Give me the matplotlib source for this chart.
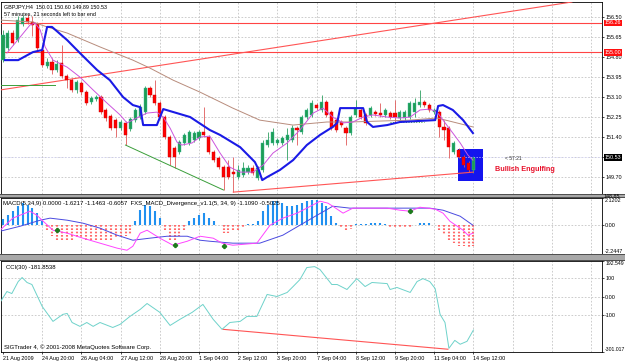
import matplotlib
matplotlib.use("Agg")
import matplotlib.pyplot as plt
import matplotlib.transforms as mtrans
from matplotlib.patches import Rectangle
import numpy as np

plt.rcParams['font.family'] = ['Liberation Sans', 'DejaVu Sans']

# ------------------------------------------------------------------ data
symbol_header = "GBPJPY,H4  150.01 150.60 149.89 150.53"
timer_header = "57 minutes, 21 seconds left to bar end"
macd_title = ("MACD(5,34,9) 0.0000 -1.6217 -1.1463 -0.6057  "
              "FXS_MACD_Divergence_v1.1(5, 34, 9) -1.1090 -0.5025")
cci_title = "CCI(30) -181.8538"
copyright_text = "SIGTrader 4, \u00a9 2001-2008 MetaQuotes Software Corp."
countdown_text = "< 57:21"
pattern_text = "Bullish Engulfing"

date_labels = ["21 Aug 2009", "24 Aug 20:00", "26 Aug 04:00", "27 Aug 12:00",
               "28 Aug 20:00", "1 Sep 04:00", "2 Sep 12:00", "3 Sep 20:00",
               "7 Sep 04:00", "8 Sep 12:00", "9 Sep 20:00", "11 Sep 04:00",
               "14 Sep 12:00"]
date_idx = list(range(0, 97, 8))

price_ticks = [156.50, 155.65, 154.80, 153.95, 153.10, 152.25, 151.40, 150.55, 149.70]
price_tick_labels = ["156.50", "155.65", "154.80", "153.95", "153.10", "152.25",
                     "151.40", "", "149.70"]

opens = [154.67, 155.18, 155.82, 155.52, 156.20, 156.46, 156.29, 156.20, 155.10, 154.42,
         154.59, 154.25, 154.55, 153.99, 153.82, 153.40, 153.70, 153.31, 152.89, 153.02,
         153.10, 152.55, 152.29, 152.12, 151.78, 152.00, 151.74, 152.12, 152.25, 152.46,
         153.48, 153.19, 152.85, 152.25, 151.40, 150.93, 150.76, 151.15, 151.15, 151.27,
         151.36, 151.61, 151.40, 150.76, 150.51, 150.12, 150.12, 149.91, 149.70, 149.78,
         149.91, 150.08, 149.66, 150.00, 151.06, 151.15, 151.15, 151.15, 151.27, 151.27,
         151.78, 151.61, 152.25, 152.34, 152.76, 152.55, 152.89, 152.46, 152.12, 152.04,
         151.78, 151.57, 152.34, 152.55, 152.34, 152.34, 152.46, 152.42, 152.34, 152.42,
         152.42, 152.21, 152.21, 152.25, 152.46, 152.76, 152.89, 152.76, 152.46, 152.46,
         151.83, 151.78, 150.76, 150.85, 150.55, 150.30, 150.01]
highs = [155.95, 155.95, 155.95, 156.54, 156.59, 156.63, 156.54, 156.29, 155.18, 154.76,
         154.76, 154.67, 155.31, 154.08, 153.91, 153.82, 153.78, 153.40, 153.14, 153.19,
         153.19, 152.63, 152.38, 152.21, 152.12, 152.08, 152.25, 152.63, 152.80, 153.57,
         153.57, 153.82, 152.93, 152.34, 151.49, 151.02, 151.27, 151.57, 151.70, 151.66,
         151.70, 152.67, 151.49, 150.85, 150.59, 150.21, 150.42, 150.55, 150.21, 150.34,
         150.21, 150.21, 150.17, 151.27, 151.61, 151.78, 151.36, 151.44, 151.78, 151.91,
         151.87, 152.34, 152.63, 152.97, 152.85, 153.19, 152.97, 152.55, 152.21, 152.12,
         151.87, 152.34, 152.97, 152.63, 152.42, 152.72, 152.55, 152.85, 152.63, 152.51,
         152.97, 152.55, 152.55, 152.93, 153.06, 153.40, 152.97, 152.85, 152.63, 152.55,
         152.12, 151.87, 151.23, 150.93, 150.63, 150.38, 150.60]
lows = [154.59, 155.10, 155.31, 155.44, 156.12, 156.20, 155.69, 155.10, 154.37, 154.33,
        154.08, 154.16, 153.91, 153.48, 153.31, 153.27, 153.19, 152.76, 152.80, 152.93,
        152.38, 152.08, 151.70, 151.40, 151.70, 151.06, 151.66, 152.04, 152.17, 152.38,
        153.10, 152.76, 152.17, 151.32, 150.21, 150.08, 150.68, 151.06, 151.06, 151.19,
        151.27, 151.40, 150.68, 150.34, 150.04, 149.15, 149.61, 149.06, 149.61, 149.70,
        149.83, 149.78, 149.57, 149.91, 150.97, 151.06, 151.06, 151.06, 150.42, 151.19,
        151.06, 151.53, 152.17, 152.25, 152.55, 152.46, 152.25, 151.70, 151.61, 151.83,
        151.06, 151.49, 152.25, 152.17, 151.91, 152.25, 152.29, 152.25, 152.25, 152.17,
        152.04, 152.12, 152.12, 152.17, 152.25, 152.67, 152.67, 152.46, 152.38, 151.40,
        151.27, 150.51, 150.68, 150.51, 150.12, 149.91, 149.89]
closes = [155.73, 155.82, 155.39, 156.37, 156.46, 156.29, 156.16, 155.18, 154.46, 154.59,
          154.25, 154.50, 153.99, 153.82, 153.40, 153.74, 153.31, 152.85, 153.06, 153.10,
          152.46, 152.21, 151.78, 151.78, 152.04, 151.49, 152.17, 152.55, 152.67, 153.48,
          153.19, 152.85, 152.25, 151.40, 150.55, 150.55, 151.19, 151.49, 151.61, 151.57,
          151.61, 151.49, 150.76, 150.42, 150.12, 149.70, 149.70, 149.83, 150.00, 150.08,
          150.08, 149.87, 150.08, 151.15, 151.27, 151.61, 151.27, 151.36, 151.49, 151.78,
          151.70, 152.25, 152.55, 152.85, 152.63, 152.89, 152.34, 151.78, 151.70, 151.91,
          151.57, 152.25, 152.63, 152.25, 152.00, 152.63, 152.38, 152.34, 152.55, 152.25,
          152.25, 152.46, 152.46, 152.85, 152.85, 152.89, 152.76, 152.55, 152.55, 151.83,
          151.70, 150.97, 151.15, 150.55, 150.21, 150.00, 150.53]

# thick blue line (vertices: bar index, price)
blue_x = [0.4, 3.1, 6.1, 8.0, 9.0, 10.0, 13.1, 15.7, 19.2, 21.8, 24.5, 26.5, 28.0, 28.6,
          31.4, 32.7, 38.2, 42.2, 44.3, 48.4, 51.4, 52.2, 52.9, 53.9, 56.5, 59.2, 62.0,
          64.7, 67.3, 68.2, 68.8, 73.5, 74.3, 75.5, 78.4, 81.0, 88.2, 88.8, 89.8, 91.8,
          93.9, 95.9]
blue_y = [154.67, 154.67, 155.01, 155.10, 156.08, 156.08, 155.52, 154.97, 154.25, 153.82,
          153.10, 152.76, 152.67, 151.91, 151.91, 152.59, 152.25, 151.70, 151.49, 150.97,
          150.34, 150.00, 149.57, 149.70, 150.00, 150.42, 151.06, 151.49, 151.83, 152.00,
          152.63, 152.63, 152.04, 151.83, 151.91, 152.04, 152.12, 152.72, 152.76, 152.55,
          152.12, 151.57]
# violet fast average
mag_x = [0.8, 3.5, 5.5, 6.5, 7.6, 8.6, 10.2, 13.1, 15.7, 18.4, 21.2, 23.9, 25.3, 27.3,
         29.4, 31.4, 32.7, 34.1, 35.5, 36.5, 38.6, 40.2, 42.2, 44.3, 46.3, 48.4, 51.0,
         53.1, 55.1, 58.0, 60.6, 63.3, 65.3, 67.3, 69.4, 71.4, 73.5, 75.5, 78.4, 81.0,
         83.1, 85.1, 87.1, 88.6, 89.8, 91.8, 93.3, 94.9, 95.9]
mag_y = [154.97, 155.65, 156.16, 156.25, 155.95, 155.23, 154.67, 154.37, 153.95, 153.40,
         152.85, 152.34, 152.00, 152.21, 152.42, 152.46, 152.25, 151.78, 151.19, 151.06,
         151.15, 151.40, 151.44, 150.72, 150.12, 149.91, 149.91, 150.21, 150.72, 151.15,
         151.70, 152.42, 152.63, 152.25, 152.00, 152.04, 152.25, 152.34, 152.25, 152.21,
         152.25, 152.55, 152.59, 152.46, 152.12, 151.57, 151.15, 150.63, 150.42]
# brown slow average
brown_x = [-0.6, 6.1, 9.0, 13.1, 19.8, 26.5, 30.0, 34.7, 40.2, 46.9, 52.4, 59.2, 66.1,
           70.8, 83.1, 88.6, 95.9]
brown_y = [156.37, 156.29, 156.08, 155.82, 155.23, 154.67, 154.33, 153.82, 153.31, 152.63,
           152.12, 151.91, 152.04, 152.04, 152.12, 152.21, 151.83]

# drawn objects on the price chart
hlevels = [156.26, 155.00]
rising_line_x = [-0.6, 116.1]
rising_line_y = [153.40, 157.14]
support_x = [47, 96]
support_y = [149.06, 149.91]
green_tl_x = [25, 45]
green_tl_y = [151.06, 149.15]
green_h_x = [-0.5, 10.6]
green_h_y = [153.61, 153.61]
green_dot_x = [79, 86]
green_dot_y = [152.02, 152.02]
box_x = [92.9, 98.0]
box_y = [149.53, 150.89]
last_price = 150.53
pattern_pos = (100.4, 150.02)
countdown_pos = (102.4, 150.47)

# MACD panel
macd_hist = [0.50, 0.80, 1.07, 1.46, 1.72, 1.59, 1.33, 0.94, 0.29, -0.49,
             -0.88, -1.14, -1.14, -1.14, -1.14, -1.01, -1.01, -1.14, -1.14, -1.14,
             -1.14, -1.14, -1.14, -1.01, -0.88, -0.88, -0.75, 0.29, 1.20, 1.59,
             1.46, 1.07, 0.55, -0.49, -1.14, -1.14, -0.88, -0.49, 0.29, 0.55,
             0.80, 0.94, 0.55, 0.29, 0.00, -0.62, -0.62, -0.49, -0.36, -0.23,
             0.08, 0.08, 0.29, 1.07, 1.59, 1.85, 1.85, 1.72, 1.51, 1.51,
             1.59, 1.72, 1.85, 1.98, 1.98, 1.72, 1.46, 0.68, 0.16, -0.13,
             -0.39, -0.26, 0.08, 0.13, 0.13, 0.18, 0.18, 0.18, 0.13, -0.13,
             -0.13, -0.18, -0.13, -0.13, 0.00, 0.16, 0.21, 0.16, 0.05, -0.49,
             -0.75, -1.14, -1.40, -1.66, -1.66, -1.79, -1.62]
macd_mag_x = [-0.6, 2.0, 5.5, 6.9, 8.2, 10.2, 13.1, 16.3, 19.8, 23.3, 25.3, 26.5, 28.0,
              29.4, 32.0, 34.7, 37.6, 40.2, 42.9, 44.7, 46.9, 51.8, 54.5, 57.1, 60.0, 62.0,
              64.7, 66.3, 67.3, 69.4, 71.4, 74.3, 78.4, 81.0, 83.1, 85.1, 88.2, 89.8, 91.2,
              93.9, 94.9, 95.9]
macd_mag_y = [-0.39, 0.55, 1.09, 0.78, 0.31, -0.39, -0.62, -1.01, -1.40, -1.79, -1.95,
              -1.64, -0.62, -0.39, -1.01, -1.56, -1.25, -0.86, -1.01, -1.40, -1.56, -1.40,
              0.00, 0.55, 0.94, 1.33, 1.87, 1.72, 1.48, 0.94, 1.33, 1.33, 1.33, 1.17, 1.09,
              1.40, 1.25, 0.94, 0.31, -0.39, -0.78, -0.62]
macd_blue_x = [-0.6, 3.5, 7.6, 9.6, 13.1, 16.3, 19.8, 23.3, 26.5, 30.0, 33.5, 37.6, 40.2,
               42.2, 46.9, 52.4, 57.1, 60.6, 64.1, 67.3, 70.8, 74.3, 81.0, 87.1, 89.8,
               93.3, 95.9]
macd_blue_y = [-0.47, -0.08, 0.39, 0.55, 0.39, 0.16, -0.23, -0.78, -1.17, -1.01, -0.86,
               -0.86, -1.17, -1.25, -1.40, -1.40, -0.78, 0.00, 0.78, 1.48, 1.33, 1.33,
               1.33, 1.33, 1.17, 0.70, 0.00]
arrow_x = [11, 35, 45, 83]
arrow_y = [-0.39, -1.56, -1.64, 1.09]
macd_max, macd_min = 2.1202, -2.2447

# CCI panel
cci_x = [-0.6, 0.8, 1.8, 3.1, 3.9, 4.9, 5.9, 8.0, 10.2, 12.2, 13.1, 14.1, 15.7, 17.1,
         18.4, 19.8, 22.4, 23.9, 25.9, 28.0, 29.4, 32.0, 34.1, 36.1, 38.6, 40.8, 42.9,
         44.7, 46.3, 48.4, 49.8, 51.8, 53.9, 55.9, 58.0, 59.2, 60.6, 62.0, 63.6, 64.7,
         67.1, 68.2, 70.2, 72.2, 73.9, 75.3, 78.4, 79.0, 80.4, 83.1, 84.5, 85.7, 87.1,
         88.2, 89.2, 90.2, 91.0, 92.2, 93.3, 94.7, 96.0]
cci_y = [-32, 27, 16, 81, 103, 76, 65, -54, -135, -97, -92, -141, -162, -141, -162,
         -141, -168, -151, -108, -70, -38, -86, -157, -124, -86, -43, -124, -178, -141,
         -135, -108, -108, 11, 0, 22, 54, 92, 157, 162, 146, 65, 65, 38, 97, 54, 76, 70,
         38, 49, 22, 81, 97, 81, 43, -97, -141, -281, -238, -259, -243, -181.85]
cci_div_x = [44.9, 90.8]
cci_div_y = [-178, -286]
cci_max, cci_min = 192.549, -301.017
cci_ticks = [100, 0, -100]

# ------------------------------------------------------------------ layout
W, H = 625, 363
X0, BAR = 3.0, 4.9


def px2i(x):
    return (x - X0) / BAR


XL = (px2i(1), px2i(602))
GRID = '#c4c4c4'
FS = 3.9      # axis labels
FT = 4.3      # in-chart titles

fig = plt.figure(figsize=(W / 100, H / 100), dpi=100)
fig.patch.set_facecolor('white')


def rect(top, bottom):
    return [1 / W, 1 - bottom / H, 601 / W, (bottom - top) / H]


ax = fig.add_axes(rect(2, 194))
axm = fig.add_axes(rect(198, 254))
axc = fig.add_axes(rect(261, 352))

for a in (ax, axm, axc):
    a.set_xlim(*XL)
    for s in a.spines.values():
        s.set_color('black')
        s.set_linewidth(0.6)
    a.tick_params(axis='y', left=False, labelleft=False, right=True, labelright=True,
                  length=1.5, width=0.5, pad=0.8, labelsize=FS)
    for k in range(8, 124, 8):
        a.axvline(k, color=GRID, lw=0.6, ls=(0, (2, 2)), zorder=1)
for a in (ax, axm):
    a.tick_params(axis='x', bottom=False, labelbottom=False)

# separators
for top, bot in ((194, 198), (254, 261)):
    fig.add_artist(Rectangle((0, 1 - bot / H), 1, (bot - top) / H,
                             transform=fig.transFigure, facecolor='#a8a8a8',
                             edgecolor='none', zorder=10))
    fig.add_artist(Rectangle((0, 1 - (top + 1.2) / H), 1, 0.8 / H,
                             transform=fig.transFigure, facecolor='#505050',
                             edgecolor='none', zorder=11))
    fig.add_artist(Rectangle((0, 1 - (bot - 0.4) / H), 1, 0.8 / H,
                             transform=fig.transFigure, facecolor='#505050',
                             edgecolor='none', zorder=11))

# ------------------------------------------------------------------ price
ax.set_ylim(148.98, 157.14)
ax.set_yticks(price_ticks)
ax.set_yticklabels(price_tick_labels)
for p in price_ticks:
    ax.axhline(p, color=GRID, lw=0.6, ls=(0, (2, 2)), zorder=1)

o = np.array(opens); h = np.array(highs); l = np.array(lows); c = np.array(closes)
idx = np.arange(len(o))
bull = c >= o

ax.add_patch(Rectangle((box_x[0], box_y[0]), box_x[1] - box_x[0], box_y[1] - box_y[0],
                       facecolor='#1414EE', edgecolor='none', zorder=2))
ax.axhline(150.55, color='#d8d8ff', lw=0.5, ls=(0, (2, 2)), zorder=2.2)

wick_col = np.where(bull, '#2EA060', '#E05A5A')
ax.vlines(idx, l, h, colors=wick_col, lw=0.6, zorder=3)
ax.bar(idx, np.maximum(np.abs(c - o), 0.025), bottom=np.minimum(o, c), width=0.62,
       color=np.where(bull, '#1E9E55', '#FF0000'),
       edgecolor=np.where(bull, '#38B89A', '#C80000'), linewidth=0.3, zorder=4)

for lv in hlevels:
    ax.axhline(lv, color='#FF4444', lw=0.8, zorder=3.5)
ax.plot(rising_line_x, rising_line_y, color='#FF5555', lw=0.8, zorder=3.5)
ax.plot(support_x, support_y, color='#FF5555', lw=0.8, zorder=3.5)
ax.plot(green_tl_x, green_tl_y, color='#3A9E3A', lw=0.7, zorder=3.5)
ax.plot(green_h_x, green_h_y, color='#3A9E3A', lw=0.7, zorder=3.5)
ax.plot(green_dot_x, green_dot_y, color='#3A9E3A', lw=0.7, ls=':', zorder=3.5)

ax.plot(brown_x, brown_y, color='#B88C7C', lw=0.7, zorder=5)
ax.plot(mag_x, mag_y, color='#CC55DD', lw=0.7, zorder=5)
ax.plot(blue_x, blue_y, color='#1A1AE6', lw=1.5, zorder=6)

ax.text(*pattern_pos, pattern_text, color='#E8102A', fontsize=5.2,
        fontweight='bold', va='center', ha='left', zorder=7)
ax.text(*countdown_pos, countdown_text, color='#303030', fontsize=3.6, va='center',
        ha='left', zorder=7)

blend = mtrans.blended_transform_factory(ax.transAxes, ax.transData)
for lv in hlevels:
    ax.text(1 + 3 / 601, lv, f'{lv:.2f}', transform=blend, color='white', fontsize=FS,
            va='center', ha='left', clip_on=False, zorder=8,
            bbox=dict(boxstyle='square,pad=0.12', fc='#FF1010', ec='none'))
ax.text(1 + 3 / 601, last_price, f'{last_price:.2f}', transform=blend, color='white',
        fontsize=FS, va='center', ha='left', clip_on=False, zorder=8,
        bbox=dict(boxstyle='square,pad=0.12', fc='black', ec='none'))

fig.text(4 / W, 1 - 6.5 / H, symbol_header, fontsize=FS, va='center', ha='left')
fig.text(4 / W, 1 - 13.5 / H, timer_header, fontsize=FS, va='center', ha='left')

# ------------------------------------------------------------------ MACD
axm.set_ylim(macd_min, macd_max)
axm.axhline(0, color=GRID, lw=0.6, ls=(0, (2, 2)), zorder=1)
hist = np.array(macd_hist)
hidx = np.arange(len(hist))
pos = hist > 0
neg = hist < 0
axm.vlines(hidx[pos], 0, hist[pos], colors='#2090F0', lw=1.5, zorder=3)
axm.vlines(hidx[neg], 0, hist[neg], colors='#FF6A6A', lw=1.5, linestyles=(0, (0.8, 0.8)),
           zorder=3)
axm.plot(macd_blue_x, macd_blue_y, color='#4A4AE0', lw=0.7, zorder=4)
axm.plot(macd_mag_x, macd_mag_y, color='#FF44FF', lw=0.7, zorder=4)
axm.plot(arrow_x, arrow_y, ls='none', marker='P', ms=2.8, color='#1C7A1C', zorder=5)
axm.set_yticks([macd_max, 0, macd_min])
axm.set_yticklabels([f'{macd_max:.4f}', '0.00', f'{macd_min:.4f}'])
tl = axm.get_yticklabels()
tl[0].set_va('top'); tl[2].set_va('bottom')
fig.text(3 / W, 1 - 204 / H, macd_title, fontsize=FT, va='center', ha='left')
fig.text(604 / W, 1 - 196.5 / H, '148.85', fontsize=FS, va='center', ha='left', zorder=12)

# ------------------------------------------------------------------ CCI
axc.set_ylim(cci_min, cci_max)
for t in cci_ticks:
    axc.axhline(t, color=GRID, lw=0.6, ls=(0, (2, 2)), zorder=1)
axc.plot(cci_x, cci_y, color='#6ED2CA', lw=0.7, zorder=4)
axc.plot(cci_div_x, cci_div_y, color='#FF5555', lw=0.8, zorder=3)
axc.set_yticks([cci_max] + cci_ticks + [cci_min])
axc.set_yticklabels([f'{cci_max:.3f}', '100', '0.00', '-100', f'{cci_min:.3f}'])
tl = axc.get_yticklabels()
tl[0].set_va('top'); tl[-1].set_va('bottom')
tl[0].set_fontsize(3.7); tl[-1].set_fontsize(3.7)
axc.set_xticks(date_idx)
axc.set_xticklabels(date_labels, ha='left', fontsize=FS)
axc.tick_params(axis='x', length=1.5, width=0.5, pad=1.5)
axc.text(5 / 601, 1 - 7 / 91, cci_title, transform=axc.transAxes, fontsize=FT,
         va='center', ha='left')
axc.text(3 / 601, 5 / 91, copyright_text, transform=axc.transAxes, fontsize=FT,
         va='center', ha='left')

fig.savefig('out.png', dpi=100, facecolor='white')
